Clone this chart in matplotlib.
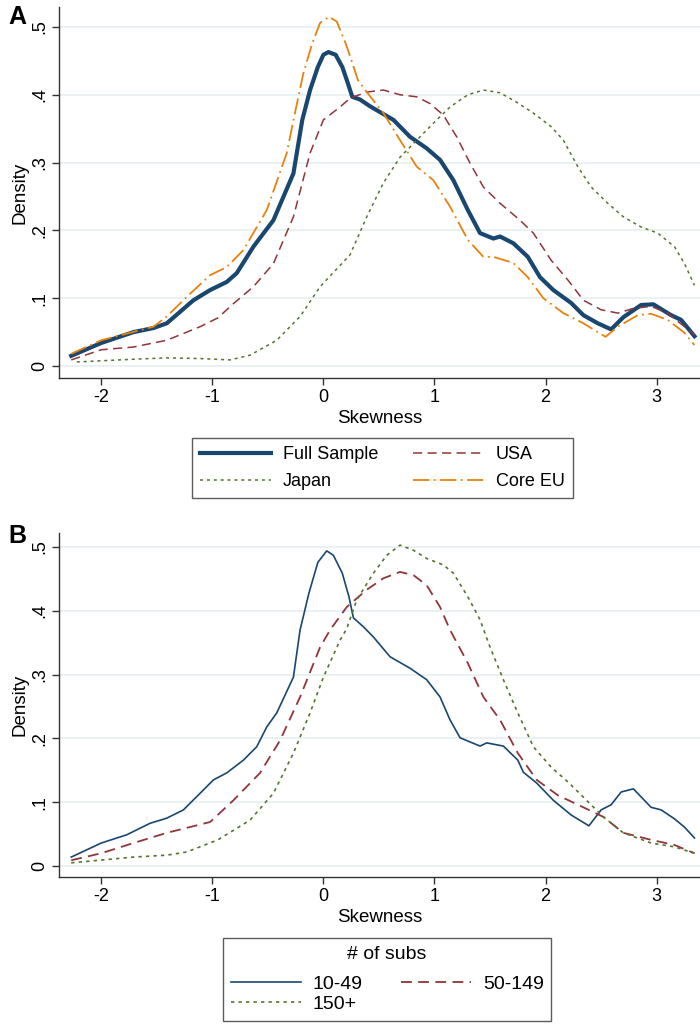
import matplotlib
matplotlib.use("Agg")
import matplotlib.pyplot as plt
import numpy as np

plt.rcParams['font.family'] = ['Liberation Sans', 'DejaVu Sans']

# ---------------- Panel A data ----------------
full_x = [-2.27, -2.0, -1.71, -1.53, -1.41, -1.17, -1.02, -0.87, -0.78, -0.63, -0.45, -0.27, -0.19, -0.12, -0.05, 0.0, 0.045,
          0.11, 0.17, 0.21, 0.26, 0.33, 0.42, 0.63, 0.78, 0.93, 1.05, 1.17, 1.30, 1.41, 1.53, 1.59, 1.71, 1.84, 1.95, 2.07,
          2.23, 2.34, 2.47, 2.59, 2.70, 2.86, 2.97, 3.13, 3.22, 3.34]
full_y = [0.015, 0.034, 0.050, 0.056, 0.063, 0.097, 0.112, 0.124, 0.137, 0.176, 0.215, 0.284, 0.363, 0.407, 0.441, 0.459, 0.463,
          0.459, 0.441, 0.422, 0.397, 0.393, 0.383, 0.363, 0.338, 0.321, 0.304, 0.274, 0.230, 0.196, 0.188, 0.191, 0.181, 0.161,
          0.131, 0.112, 0.093, 0.075, 0.063, 0.054, 0.072, 0.090, 0.091, 0.075, 0.068, 0.044]

usa_x = [-2.27, -2.0, -1.71, -1.41, -1.11, -0.95, -0.81, -0.63, -0.45, -0.27, -0.12, 0.0, 0.15, 0.24, 0.39, 0.54, 0.69, 0.84,
         0.96, 1.08, 1.20, 1.32, 1.44, 1.59, 1.77, 1.89, 2.05, 2.20, 2.34, 2.50, 2.65, 2.79, 2.95, 3.10, 3.25, 3.34]
usa_y = [0.009, 0.024, 0.028, 0.038, 0.058, 0.071, 0.092, 0.117, 0.151, 0.220, 0.314, 0.363, 0.382, 0.395, 0.404, 0.407, 0.400,
         0.397, 0.387, 0.370, 0.338, 0.299, 0.264, 0.240, 0.215, 0.196, 0.156, 0.127, 0.097, 0.083, 0.078, 0.085, 0.088, 0.078,
         0.058, 0.046]

japan_x = [-2.22, -1.71, -1.41, -1.11, -0.84, -0.66, -0.42, -0.21, -0.03, 0.24, 0.39, 0.54, 0.69, 0.84, 0.99, 1.14, 1.30, 1.44,
           1.59, 1.75, 1.89, 2.05, 2.16, 2.29, 2.41, 2.56, 2.70, 2.86, 3.01, 3.16, 3.25, 3.34]
japan_y = [0.006, 0.010, 0.012, 0.011, 0.009, 0.016, 0.038, 0.073, 0.117, 0.164, 0.220, 0.270, 0.308, 0.333, 0.358, 0.382, 0.400,
           0.407, 0.403, 0.388, 0.373, 0.353, 0.333, 0.294, 0.264, 0.240, 0.220, 0.205, 0.196, 0.176, 0.151, 0.119]

eu_x = [-2.27, -2.0, -1.53, -1.41, -1.23, -1.02, -0.87, -0.72, -0.51, -0.33, -0.25, -0.18, -0.10, -0.03, 0.05, 0.12, 0.20,
        0.26, 0.31, 0.39, 0.54, 0.69, 0.84, 0.99, 1.14, 1.30, 1.44, 1.53, 1.71, 1.84, 1.98, 2.16, 2.34, 2.54, 2.65, 2.83,
        2.95, 3.10, 3.25, 3.34]
eu_y = [0.018, 0.038, 0.058, 0.073, 0.102, 0.134, 0.146, 0.171, 0.230, 0.314, 0.378, 0.432, 0.476, 0.506, 0.515, 0.508, 0.476,
        0.447, 0.422, 0.404, 0.373, 0.333, 0.294, 0.274, 0.235, 0.186, 0.161, 0.161, 0.152, 0.131, 0.100, 0.078, 0.063, 0.043,
        0.058, 0.075, 0.077, 0.068, 0.049, 0.031]

# ---------------- Panel B data ----------------
s10_x = [-2.27, -2.0, -1.77, -1.56, -1.41, -1.26, -1.11, -0.99, -0.87, -0.72, -0.60, -0.51, -0.42, -0.27, -0.21, -0.13, -0.05,
         0.03, 0.09, 0.17, 0.23, 0.27, 0.36, 0.45, 0.60, 0.78, 0.93, 1.05, 1.14, 1.23, 1.41, 1.47, 1.62, 1.75, 1.80, 1.92,
         2.07, 2.23, 2.39, 2.50, 2.59, 2.68, 2.79, 2.95, 3.04, 3.16, 3.25, 3.34]
s10_y = [0.014, 0.036, 0.049, 0.067, 0.075, 0.088, 0.114, 0.135, 0.146, 0.166, 0.187, 0.218, 0.240, 0.296, 0.370, 0.428, 0.476,
         0.494, 0.487, 0.459, 0.422, 0.389, 0.375, 0.359, 0.328, 0.310, 0.292, 0.265, 0.229, 0.201, 0.188, 0.193, 0.188, 0.166,
         0.147, 0.130, 0.103, 0.080, 0.063, 0.088, 0.096, 0.116, 0.121, 0.092, 0.088, 0.074, 0.061, 0.044]

s50_x = [-2.27, -2.0, -1.71, -1.41, -1.02, -0.81, -0.57, -0.39, -0.21, -0.03, 0.06, 0.21, 0.39, 0.54, 0.69, 0.81, 0.93, 1.05,
         1.14, 1.30, 1.44, 1.59, 1.75, 1.92, 2.11, 2.34, 2.52, 2.70, 2.95, 3.16, 3.34]
s50_y = [0.009, 0.020, 0.036, 0.052, 0.069, 0.103, 0.146, 0.197, 0.265, 0.343, 0.370, 0.406, 0.433, 0.451, 0.461, 0.456, 0.440,
         0.406, 0.370, 0.318, 0.265, 0.229, 0.177, 0.135, 0.111, 0.092, 0.077, 0.052, 0.041, 0.033, 0.020]

s150_x = [-2.27, -1.71, -1.41, -1.23, -0.95, -0.66, -0.45, -0.27, -0.12, 0.0, 0.15, 0.21, 0.30, 0.45, 0.57, 0.69, 0.81, 0.93,
          1.08, 1.17, 1.30, 1.41, 1.50, 1.62, 1.75, 1.89, 2.05, 2.20, 2.34, 2.52, 2.70, 2.95, 3.16, 3.34]
s150_y = [0.005, 0.014, 0.017, 0.022, 0.041, 0.072, 0.114, 0.177, 0.240, 0.296, 0.354, 0.372, 0.417, 0.459, 0.487, 0.503, 0.495,
          0.482, 0.472, 0.459, 0.422, 0.386, 0.343, 0.292, 0.240, 0.187, 0.155, 0.132, 0.108, 0.077, 0.052, 0.036, 0.030, 0.020]

x_ticks = [-2, -1, 0, 1, 2, 3]
x_tick_labels = ['-2', '-1', '0', '1', '2', '3']
y_ticks = [0, 0.1, 0.2, 0.3, 0.4, 0.5]
y_tick_labels = ['0', '.1', '.2', '.3', '.4', '.5']

NAVY = '#1a476f'
MAROON = '#90353b'
GREEN = '#55752f'
ORANGE = '#e8820c'
GRID = '#e6eff1'

fig = plt.figure(figsize=(7, 10.25), dpi=100)
axA = fig.add_axes([0.0843, 0.6312, 0.9157, 0.362])
axB = fig.add_axes([0.0843, 0.1444, 0.9157, 0.3356])


def style(ax, ylim):
    ax.set_xlim(-2.38, 3.39)
    ax.set_ylim(*ylim)
    ax.set_xticks(x_ticks)
    ax.set_xticklabels(x_tick_labels)
    ax.set_yticks(y_ticks)
    ax.set_yticklabels(y_tick_labels, rotation=90, va='center')
    ax.tick_params(axis='both', labelsize=13, length=5, width=1, color='#333333', direction='out', pad=3)
    for s in ['top', 'right']:
        ax.spines[s].set_visible(False)
    for s in ['left', 'bottom']:
        ax.spines[s].set_color('#333333')
        ax.spines[s].set_linewidth(1.0)
    ax.yaxis.grid(True, color=GRID, linewidth=1.2)
    ax.set_axisbelow(True)
    ax.set_xlabel('Skewness', fontsize=13.5, labelpad=3)
    ax.set_ylabel('Density', fontsize=13.5, labelpad=2)


style(axA, (-0.0177, 0.5295))
axA.plot(full_x, full_y, color=NAVY, lw=3.0, label='Full Sample', solid_joinstyle='round')
axA.plot(usa_x, usa_y, color=MAROON, lw=1.1, dashes=(6, 3.5), label='USA')
axA.plot(japan_x, japan_y, color=GREEN, lw=1.1, dashes=(2, 2.5), label='Japan')
axA.plot(eu_x, eu_y, color=ORANGE, lw=1.3, dashes=(9, 2.5, 1, 2.5), label='Core EU')

style(axB, (-0.0172, 0.522))
axB.plot(s10_x, s10_y, color=NAVY, lw=1.2, label='10-49')
axB.plot(s50_x, s50_y, color=MAROON, lw=1.3, dashes=(6, 3.5), label='50-149')
axB.plot(s150_x, s150_y, color=GREEN, lw=1.2, dashes=(2, 2.5), label='150+')

fig.text(0.012, 0.995, 'A', fontsize=18, fontweight='bold', va='top', ha='left')
fig.text(0.012, 0.489, 'B', fontsize=18, fontweight='bold', va='top', ha='left')

hA, lA = axA.get_legend_handles_labels()
legA = fig.legend([hA[0], hA[2], hA[1], hA[3]], [lA[0], lA[2], lA[1], lA[3]], ncol=2,
                  loc='upper center', bbox_to_anchor=(0.5464, 0.5727), borderaxespad=0, fontsize=13,
                  frameon=True, fancybox=False, edgecolor='#333333', handlelength=3.9,
                  columnspacing=1.9, handletextpad=0.7, borderpad=0.45, labelspacing=0.55)
legA.get_frame().set_linewidth(1.0)

hB, lB = axB.get_legend_handles_labels()
legB = fig.legend([hB[0], hB[2], hB[1]], [lB[0], lB[2], lB[1]], ncol=2, title='# of subs', title_fontsize=14,
                  loc='upper center', bbox_to_anchor=(0.553, 0.0849), borderaxespad=0, fontsize=14,
                  frameon=True, fancybox=False, edgecolor='#333333', handlelength=3.6,
                  columnspacing=2.0, handletextpad=0.6, borderpad=0.4, labelspacing=0.12)
legB.get_frame().set_linewidth(1.0)
legB._legend_box.sep = 9

fig.savefig('out.png', dpi=100, facecolor='white')
